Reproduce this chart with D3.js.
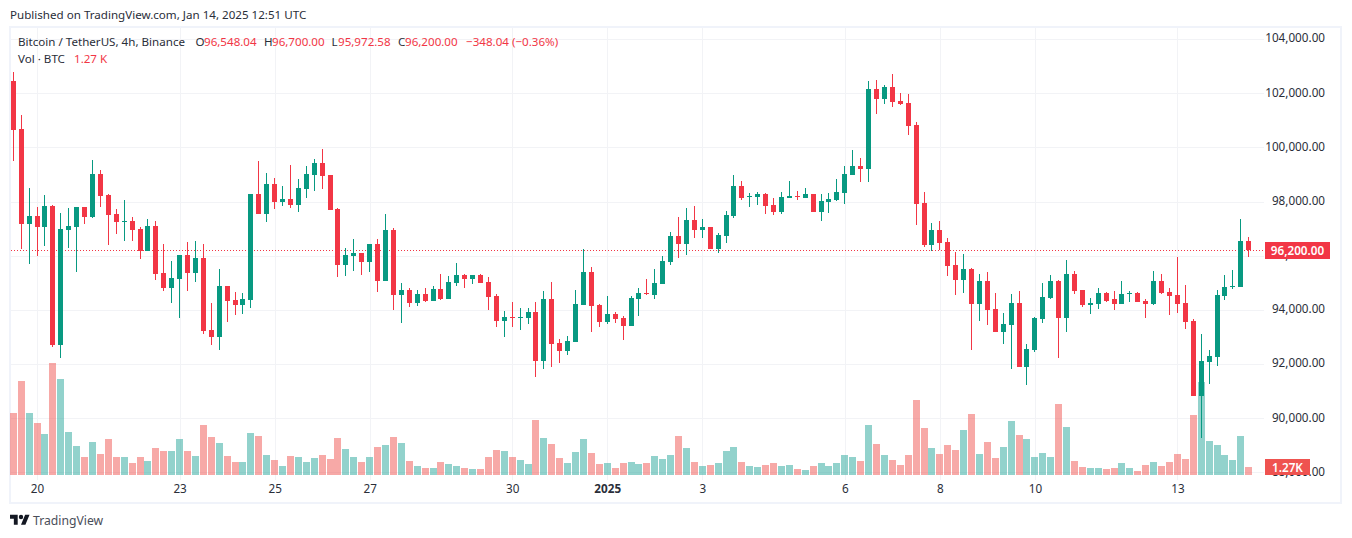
<!DOCTYPE html>
<html lang="en">

<head>
    <meta charset="UTF-8">
    <title>BTCUSDT 4h</title>
    <script src="https://cdn.jsdelivr.net/npm/d3@7"></script>
    <style>
        body { margin: 0; background: #fff; }
        text { font-family: "Noto Sans", sans-serif; fill: #2a2e39; }
    </style>
</head>

<body>
    <svg id="chart" width="1352" height="538"></svg>

    <script>
        // one value per 4h candle, starting Dec 19 12:00
        const opens = [
            102453, 100680, 97173, 97469, 97062, 97838, 92705, 96952, 97062, 97801,
            97432, 99020, 98244, 97542, 97247, 97284, 96989, 96176, 97099, 95364,
            94810, 95142, 96028, 95364, 95918, 93259, 93000, 94883, 94366, 94182,
            94366, 98281, 97542, 98650, 97986, 98096, 97875, 98466, 98983, 99426,
            98983, 97726, 95658, 95991, 96101, 95769, 96434, 95067, 96951, 94550,
            94735, 94255, 94587, 94329, 94772, 94403, 94994, 95289, 95141, 95289,
            95030, 94513, 93590, 93738, 93701, 93701, 93923, 92113, 94403, 92778,
            92482, 92815, 94181, 95400, 94181, 93553, 93849, 93701, 93405, 94403,
            94624, 94550, 94957, 95768, 96728, 96433, 97319, 96950, 97061, 96248,
            96728, 97467, 98575, 98168, 98168, 98279, 97873, 97615, 98132, 98205,
            98132, 98279, 97615, 97984, 98058, 98316, 98981, 99313, 99203, 102157,
            101788, 102231, 101714, 101640, 100827, 97947, 96396, 96950, 96507, 95659,
            95105, 95511, 94219, 95068, 94034, 93185, 93443, 94256, 91892, 92520,
            93665, 94440, 95068, 93702, 95326, 94736, 94182, 94219, 94625, 94404,
            94219, 94589, 94625, 94330, 94219, 95069, 94662, 94552, 94256, 93591,
            90822, 92077, 92262, 94515, 94847, 94847, 96548.04
        ]
        const highs = [
            102797, 101197, 98503, 97801, 98244, 97875, 97579, 97764, 97801, 97801,
            99537, 99167, 98281, 97727, 98059, 97432, 97062, 97358, 97284, 96434,
            95807, 96028, 96508, 96545, 96434, 94256, 95511, 94883, 94662, 94625,
            98281, 99500, 99057, 98872, 98576, 99352, 98835, 99315, 99574, 99941,
            98983, 97764, 96286, 96618, 96101, 96434, 96618, 97542, 97025, 94994,
            94809, 94735, 94809, 94883, 95326, 95252, 95732, 95326, 95289, 95326,
            95215, 94587, 93960, 94292, 94070, 94070, 94292, 94698, 95030, 92926,
            93036, 94735, 96249, 95584, 94218, 94513, 93923, 93775, 94513, 94809,
            95141, 95510, 95991, 96876, 97430, 97762, 97836, 97356, 97061, 96839,
            97651, 98981, 98759, 98316, 98353, 98316, 98132, 98353, 98759, 98390,
            98501, 98279, 98279, 98316, 98833, 99313, 99904, 99609, 102452, 102489,
            102305, 102711, 102009, 101972, 100938, 98353, 97208, 97282, 96654, 96139,
            96065, 95548, 95326, 95400, 94625, 93886, 94588, 94699, 92741, 93739,
            94994, 95290, 95105, 95844, 95437, 94736, 94440, 94810, 94662, 94699,
            95069, 94687, 94662, 94404, 95438, 95327, 94810, 95955, 94921, 93665,
            93111, 92520, 94736, 95290, 95475, 97358, 96700
        ]
        const lows = [
            99498, 96250, 95696, 95991, 96361, 92631, 92224, 96287, 95400, 97173,
            97395, 97801, 96398, 96804, 96545, 96545, 95881, 96176, 95105, 94699,
            94256, 93702, 94699, 95031, 93111, 92705, 92520, 93554, 93812, 93849,
            94071, 97542, 97247, 97727, 97838, 97764, 97616, 98133, 98392, 98466,
            97690, 95215, 95252, 95437, 95289, 95400, 94661, 95067, 93996, 93516,
            94107, 94144, 94292, 94329, 94366, 94403, 94883, 94809, 94957, 94994,
            93996, 93369, 92999, 93369, 93258, 93479, 91522, 91817, 91891, 92039,
            92335, 92815, 94181, 93184, 93369, 93479, 93516, 92888, 93405, 93775,
            94550, 94403, 94957, 95657, 95916, 96027, 96654, 96654, 96248, 96100,
            96470, 97393, 98058, 97799, 97873, 97541, 97504, 97541, 98132, 98058,
            98132, 97615, 97282, 97578, 98021, 97910, 98981, 98722, 98722, 101234,
            101603, 101492, 101566, 100458, 97134, 96322, 96174, 96211, 95251, 94551,
            94625, 92520, 93591, 93443, 93185, 92741, 91818, 91892, 91227, 92446,
            93517, 94403, 92224, 93185, 94588, 94108, 93849, 94035, 94293, 93998,
            94219, 94293, 94293, 93702, 94182, 94589, 93813, 93887, 93296, 90822,
            89271, 91265, 91930, 94367, 94773, 94847, 95972.58
        ]
        const closes = [
            100643, 97173, 97469, 97062, 97838, 92705, 96989, 97099, 97801, 97432,
            99020, 98207, 97506, 97247, 97284, 96952, 96176, 97099, 95327, 94810,
            95179, 96028, 95364, 95918, 93222, 93000, 94883, 94330, 94182, 94403,
            98281, 97542, 98650, 97986, 98096, 97875, 98503, 99020, 99426, 98946,
            97690, 95658, 96028, 96101, 95769, 96434, 95067, 96951, 94550, 94735,
            94255, 94587, 94329, 94772, 94403, 95030, 95289, 95141, 95289, 94994,
            94477, 93590, 93738, 93701, 93738, 93923, 92113, 94403, 92741, 92482,
            92852, 94218, 95400, 94144, 93553, 93849, 93664, 93405, 94440, 94624,
            94587, 94994, 95806, 96728, 96433, 97319, 96950, 97061, 96248, 96765,
            97504, 98575, 98132, 98205, 98279, 97836, 97615, 98168, 98205, 98168,
            98279, 97615, 98021, 98095, 98353, 99018, 99313, 99203, 102157, 101788,
            102231, 101677, 101603, 100791, 97910, 96396, 96950, 96470, 95620, 95105,
            95511, 94219, 95068, 93997, 93185, 93480, 94256, 91892, 92557, 93702,
            94477, 95068, 93702, 95326, 94699, 94182, 94256, 94625, 94330, 94219,
            94589, 94625, 94293, 94219, 95069, 94625, 94515, 94219, 93554, 90822,
            92114, 92299, 94552, 94847, 94884, 96546, 96200
        ]
        // volume in thousands of BTC
        const volumes = [
            9.86, 14.95, 9.86, 8.27, 6.52, 17.81, 15.26, 6.84, 4.61, 2.86,
            5.25, 3.34, 5.72, 2.86, 2.86, 1.91, 2.86, 2.23, 4.29, 3.82,
            3.82, 5.72, 3.82, 3.02, 7.95, 6.04, 5.09, 3.02, 2.07, 2.07,
            6.68, 6.20, 3.18, 2.39, 1.43, 3.02, 2.86, 2.07, 2.70, 3.18,
            2.54, 5.88, 4.13, 2.86, 2.07, 2.86, 4.45, 4.77, 6.04, 5.09,
            2.23, 1.43, 1.11, 1.11, 2.07, 1.75, 1.43, 1.11, 0.95, 0.95,
            2.86, 3.98, 3.82, 2.86, 2.39, 1.75, 8.75, 5.88, 4.93, 2.70,
            1.91, 3.66, 5.72, 3.50, 1.75, 1.91, 1.11, 1.91, 2.07, 1.75,
            1.91, 3.02, 2.54, 3.18, 6.20, 4.29, 2.07, 1.43, 1.59, 1.91,
            3.82, 4.45, 2.07, 1.43, 1.27, 1.59, 1.91, 1.43, 1.59, 0.95,
            0.80, 1.43, 1.91, 1.43, 1.91, 3.18, 2.86, 2.23, 7.95, 4.93,
            3.18, 2.39, 1.59, 3.18, 11.93, 7.47, 4.29, 3.34, 4.77, 3.98,
            7.16, 9.70, 3.34, 5.25, 2.70, 4.45, 8.59, 6.36, 5.72, 2.86,
            3.50, 2.86, 11.29, 7.63, 2.23, 1.27, 1.11, 1.11, 0.95, 1.11,
            1.91, 1.11, 0.64, 1.59, 2.07, 1.43, 2.07, 3.34, 2.54, 9.54,
            14.79, 5.41, 4.77, 3.18, 2.39, 6.20, 1.27
        ]

        const dayTicks = [3, 21, 33, 45, 63, 75, 87, 105, 117, 129, 147]
        const dayLabels = ['20', '23', '25', '27', '30', '2025', '3', '6', '8', '10', '13']
        const priceTicks = [88000, 90000, 92000, 94000, 96000, 98000, 100000, 102000, 104000]
        const lastPrice = 96200

        const green = '#089981', red = '#f23645'
        const volGreen = '#26a69a', volRed = '#ef5350'
        const gridColor = '#f2f3f6'

        const svg = d3.select('#chart')
        const x = d3.scaleLinear().domain([0, 156]).range([13.3, 1248.7])
        const y = d3.scaleLinear().domain([90000, 102000]).range([418.3, 93.3])
        const yVol = d3.scaleLinear().domain([0, 20]).range([475, 349.2])
        const candles = d3.range(opens.length)
        const up = i => closes[i] >= opens[i]

        // frame
        svg.append('rect')
            .attr('x', 10).attr('y', 27).attr('width', 1331).attr('height', 476)
            .attr('fill', 'none').attr('stroke', '#f0f3fa').attr('stroke-width', 2)

        // grid, built from the axes with long ticks
        svg.append('g').attr('transform', 'translate(11,0)')
            .call(d3.axisRight(y).tickValues(priceTicks).tickSize(1253).tickFormat(''))
            .call(g => g.select('.domain').remove())
            .selectAll('line').attr('stroke', gridColor).attr('shape-rendering', 'crispEdges')
        svg.append('g').attr('transform', 'translate(0,28)')
            .call(d3.axisBottom(x).tickValues(dayTicks).tickSize(452).tickFormat(''))
            .call(g => g.select('.domain').remove())
            .selectAll('line').attr('stroke', gridColor).attr('shape-rendering', 'crispEdges')

        // volume
        svg.append('g').selectAll('rect').data(candles).enter().append('rect')
            .attr('x', i => Math.floor(x(i)) - 3)
            .attr('width', 7)
            .attr('y', i => Math.round(yVol(volumes[i])))
            .attr('height', i => 475 - Math.round(yVol(volumes[i])))
            .attr('fill', i => up(i) ? volGreen : volRed)
            .attr('fill-opacity', 0.5)
            .attr('shape-rendering', 'crispEdges')

        // last price line
        svg.append('line')
            .attr('x1', 11).attr('x2', 1264)
            .attr('y1', Math.floor(y(lastPrice)) + 0.5).attr('y2', Math.floor(y(lastPrice)) + 0.5)
            .attr('stroke', red).attr('stroke-dasharray', '1 2')

        // candles
        const candle = svg.append('g').selectAll('g').data(candles).enter().append('g')
            .attr('fill', i => up(i) ? green : red)
            .attr('shape-rendering', 'crispEdges')
        candle.append('rect')
            .attr('x', i => Math.floor(x(i)))
            .attr('width', 1)
            .attr('y', i => Math.round(y(highs[i])))
            .attr('height', i => Math.max(1, Math.round(y(lows[i])) - Math.round(y(highs[i]))))
        candle.append('rect')
            .attr('x', i => Math.floor(x(i)) - 2)
            .attr('width', 5)
            .attr('y', i => Math.round(y(Math.max(opens[i], closes[i]))))
            .attr('height', i => Math.max(1, Math.round(y(Math.min(opens[i], closes[i]))) - Math.round(y(Math.max(opens[i], closes[i])))))

        // axis labels
        svg.append('g').attr('transform', 'translate(1325,-1)')
            .call(d3.axisLeft(y).tickValues(priceTicks).tickSize(0).tickPadding(0).tickFormat(d3.format(',.2f')))
            .call(g => g.select('.domain').remove())
            .selectAll('text').style('font-size', '11.7px').style('font-family', null)
        svg.append('g').attr('transform', 'translate(0,485)')
            .call(d3.axisBottom(x).tickValues(dayTicks).tickSize(0).tickPadding(0).tickFormat((d, i) => dayLabels[i]))
            .call(g => g.select('.domain').remove())
            .selectAll('text').style('font-size', '11.7px').style('font-family', null)
            .style('font-weight', (d, i) => dayLabels[i] === '2025' ? 700 : 400)

        // last value tags
        svg.append('rect').attr('x', 1265).attr('y', 242).attr('width', 65).attr('height', 17).attr('fill', red)
        svg.append('text').attr('x', 1297.5).attr('y', 255).attr('text-anchor', 'middle')
            .style('fill', '#fff').style('font-size', '11.7px').style('font-weight', 600).text(d3.format(',.2f')(lastPrice))
        svg.append('rect').attr('x', 1265).attr('y', 459).attr('width', 45).attr('height', 16).attr('fill', volRed)
        svg.append('text').attr('x', 1287.5).attr('y', 472).attr('text-anchor', 'middle')
            .style('fill', '#fff').style('font-size', '11.7px').style('font-weight', 600).text('1.27K')

        // header texts
        function label(xPos, yPos, str, color) {
            svg.append('text').attr('x', xPos).attr('y', yPos)
                .style('font-size', '11.6px').style('fill', color || '#2a2e39').text(str)
        }
        label(10, 19, 'Published on TradingView.com, Jan 14, 2025 12:51 UTC')
        label(18, 46, 'Bitcoin / TetherUS, 4h, Binance')
        label(195.5, 46, 'O'); label(204, 46, '96,548.04', red)
        label(264, 46, 'H'); label(272, 46, '96,700.00', red)
        label(331.5, 46, 'L'); label(338, 46, '95,972.58', red)
        label(398, 46, 'C'); label(405, 46, '96,200.00', red)
        label(466, 46, '\u2212348.04 (\u22120.36%)', red)
        label(18, 63, 'Vol \u00b7 BTC')
        label(74, 63, '1.27 K', red)

        // logo
        const logo = svg.append('g').attr('transform', 'translate(10,511) scale(0.55)').attr('fill', '#131722')
        logo.append('path').attr('d', 'M14 25H7V14H0V7h14v18zM28 25h-8l7.5-18h8L28 25z')
        logo.append('circle').attr('cx', 20).attr('cy', 11).attr('r', 4)
        svg.append('text').attr('x', 33).attr('y', 525)
            .style('font-size', '12.2px').style('fill', '#4a4e59').text('TradingView')
    </script>
</body>

</html>
